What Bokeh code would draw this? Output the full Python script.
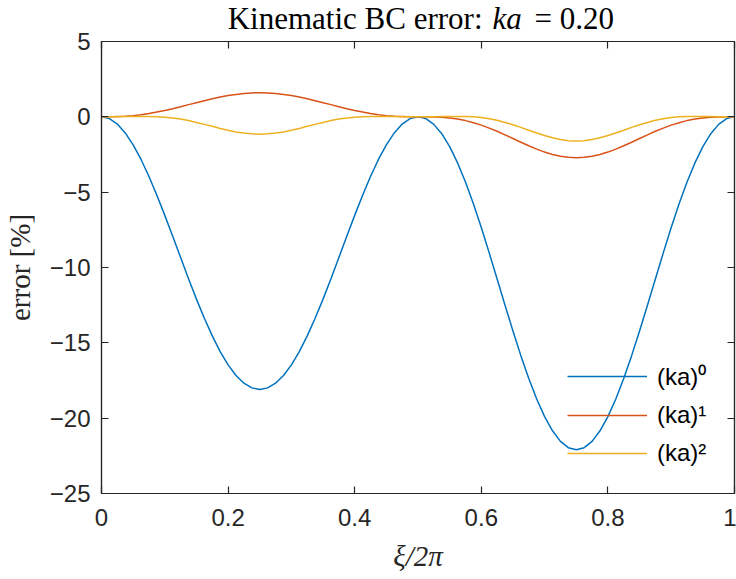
import numpy as np
from bokeh.plotting import figure
from bokeh.layouts import column
from bokeh.core.properties import value
from bokeh.models import Range1d, LinearAxis, FixedTicker, Legend, LegendItem
from bokeh.embed import file_html
from bokeh.resources import INLINE

# sample grid along xi / 2pi
xi = np.linspace(0.0, 1.0, 81)

# kinematic boundary-condition error [%] for each order in ka
err_ka0 = [0.00, -0.12, -0.48, -1.07, -1.86, -2.83, -3.96, -5.20, -6.54, -7.93,
           -9.34, -10.74, -12.10, -13.37, -14.54, -15.58, -16.46, -17.17, -17.68, -17.99,
           -18.10, -17.99, -17.68, -17.17, -16.46, -15.58, -14.54, -13.37, -12.10, -10.74,
           -9.34, -7.93, -6.54, -5.20, -3.96, -2.83, -1.86, -1.07, -0.48, -0.12,
           0.00, -0.12, -0.50, -1.12, -1.98, -3.06, -4.33, -5.77, -7.35, -9.03,
           -10.76, -12.50, -14.21, -15.85, -17.37, -18.73, -19.90, -20.84, -21.54, -21.96,
           -22.10, -21.96, -21.54, -20.84, -19.90, -18.73, -17.37, -15.85, -14.21, -12.50,
           -10.76, -9.03, -7.35, -5.77, -4.33, -3.06, -1.98, -1.12, -0.50, -0.12,
           0.00]

err_ka1 = [0.00, 0.00, 0.02, 0.04, 0.08, 0.14, 0.22, 0.32, 0.42, 0.54,
           0.67, 0.81, 0.94, 1.07, 1.20, 1.31, 1.41, 1.49, 1.55, 1.59,
           1.60, 1.59, 1.55, 1.49, 1.41, 1.31, 1.20, 1.07, 0.94, 0.81,
           0.67, 0.54, 0.42, 0.32, 0.22, 0.14, 0.08, 0.04, 0.02, 0.00,
           0.00, 0.00, -0.01, -0.03, -0.08, -0.15, -0.25, -0.39, -0.55, -0.75,
           -0.96, -1.20, -1.44, -1.69, -1.92, -2.14, -2.34, -2.50, -2.62, -2.69,
           -2.72, -2.69, -2.62, -2.50, -2.34, -2.14, -1.92, -1.69, -1.44, -1.20,
           -0.96, -0.75, -0.55, -0.39, -0.25, -0.15, -0.08, -0.03, -0.01, 0.00,
           0.00]

err_ka2 = [0.00, 0.00, 0.01, 0.02, 0.03, 0.03, 0.03, 0.01, -0.02, -0.08,
           -0.15, -0.25, -0.37, -0.50, -0.63, -0.77, -0.89, -1.00, -1.08, -1.13,
           -1.15, -1.13, -1.08, -1.00, -0.89, -0.77, -0.63, -0.50, -0.37, -0.25,
           -0.15, -0.08, -0.02, 0.01, 0.03, 0.03, 0.03, 0.02, 0.01, 0.00,
           0.00, 0.00, 0.01, 0.02, 0.03, 0.03, 0.02, 0.00, -0.05, -0.13,
           -0.23, -0.37, -0.52, -0.70, -0.89, -1.07, -1.24, -1.39, -1.50, -1.58,
           -1.60, -1.58, -1.50, -1.39, -1.24, -1.07, -0.89, -0.70, -0.52, -0.37,
           -0.23, -0.13, -0.05, 0.00, 0.02, 0.03, 0.03, 0.02, 0.01, 0.00,
           0.00]

series_labels = ["(ka)⁰", "(ka)¹", "(ka)²"]
x_ticks = [0, 0.2, 0.4, 0.6, 0.8, 1]
x_tick_labels = ["0", "0.2", "0.4", "0.6", "0.8", "1"]
y_ticks = [-25, -20, -15, -10, -5, 0, 5]

colors = ["#0072BD", "#D95319", "#EDB120"]
ink = "#262626"
sans = "Liberation Sans"
serif = "Liberation Serif"

W = 736
TITLE_H = 29                  # title strip above the axes
TOP_GAP = 12                  # room above the frame for the top tick label
PLOT_H = 579 - TITLE_H
FRAME_L, FRAME_R = 101, 734   # frame edges shared by both stacked figures

# ---- title strip: "Kinematic BC error: ka = 0.20" with ka in italics ----
# the column aligns this strip's frame with the axes below, so its x range
# is given in page pixels over the same span
pt = figure(width=W, height=TITLE_H, output_backend="svg", toolbar_location=None,
            x_range=Range1d(FRAME_L, FRAME_R), y_range=Range1d(TITLE_H, 0),
            x_axis_type=None, y_axis_type=None, min_border=0,
            min_border_left=FRAME_L, min_border_right=W - FRAME_R)
pt.title = None
pt.outline_line_color = None
pt.background_fill_color = "white"
pt.border_fill_color = "white"
pt.xgrid.visible = False
pt.ygrid.visible = False
title_base = 18
title_size = "31px"
pt.text(x=[482], y=[title_base], text=["Kinematic BC error:"],
        text_font=value(serif), text_font_size=title_size, text_color="black",
        text_align="right", text_baseline="alphabetic")
pt.text(x=[492], y=[title_base], text=["ka"],
        text_font=value(serif), text_font_style="italic", text_font_size=title_size,
        text_color="black", text_align="left", text_baseline="alphabetic")
pt.text(x=[534], y=[title_base], text=["= 0.20"],
        text_font=value(serif), text_font_size=title_size, text_color="black",
        text_align="left", text_baseline="alphabetic")

# ---- main axes ----
p = figure(width=W, height=PLOT_H, output_backend="svg", toolbar_location=None,
           x_range=Range1d(0, 1), y_range=Range1d(-25, 5),
           min_border_left=FRAME_L, min_border_right=W - FRAME_R,
           min_border_top=TOP_GAP, min_border_bottom=86)
p.background_fill_color = "white"
p.border_fill_color = "white"
p.outline_line_color = ink
p.outline_line_width = 1.2
p.xgrid.visible = False
p.ygrid.visible = False

def style_axis(ax, ticks, show_labels=True):
    ax.ticker = FixedTicker(ticks=ticks)
    ax.axis_line_color = ink
    ax.axis_line_width = 1.2
    ax.major_tick_line_color = ink
    ax.major_tick_line_width = 1.2
    ax.major_tick_in = 7
    ax.major_tick_out = 0
    ax.minor_tick_line_color = None
    if show_labels:
        ax.major_label_text_font = sans
        ax.major_label_text_font_size = "24px"
        ax.major_label_text_color = ink
    else:
        ax.major_label_text_color = None
        ax.major_label_text_font_size = "1px"
        ax.major_label_standoff = 0

xa = p.xaxis[0]
style_axis(xa, x_ticks)
xa.major_label_overrides = {t: s for t, s in zip(x_ticks, x_tick_labels)}
xa.major_label_standoff = 15
xa.axis_label = "ξ/2π"
xa.axis_label_text_font = serif
xa.axis_label_text_font_style = "italic"
xa.axis_label_text_font_size = "29px"
xa.axis_label_text_color = ink
xa.axis_label_standoff = 11

ya = p.yaxis[0]
style_axis(ya, y_ticks)
ya.major_label_standoff = 11
ya.axis_label = "error [%]"
ya.axis_label_text_font = serif
ya.axis_label_text_font_style = "normal"
ya.axis_label_text_font_size = "29px"
ya.axis_label_text_color = ink
ya.axis_label_standoff = 11

# mirrored tick marks on the top and right edges of the box
top_ax = LinearAxis()
style_axis(top_ax, x_ticks, show_labels=False)
p.add_layout(top_ax, "above")
right_ax = LinearAxis()
style_axis(right_ax, y_ticks, show_labels=False)
p.add_layout(right_ax, "right")

renderers = []
for ys, c in zip([err_ka0, err_ka1, err_ka2], colors):
    renderers.append(p.line(xi, ys, line_color=c, line_width=1.5))

legend = Legend(items=[LegendItem(label=lab, renderers=[r])
                       for lab, r in zip(series_labels, renderers)],
                location=(466, 25), orientation="vertical",
                glyph_width=80, glyph_height=30, label_height=30,
                spacing=8, padding=0, margin=0, label_standoff=10,
                border_line_alpha=0, background_fill_alpha=0,
                label_text_font=sans, label_text_font_size="24px",
                label_text_color="black")
p.add_layout(legend)

page = column(pt, p, spacing=0)
open("out.html", "w").write(file_html(page, INLINE))
